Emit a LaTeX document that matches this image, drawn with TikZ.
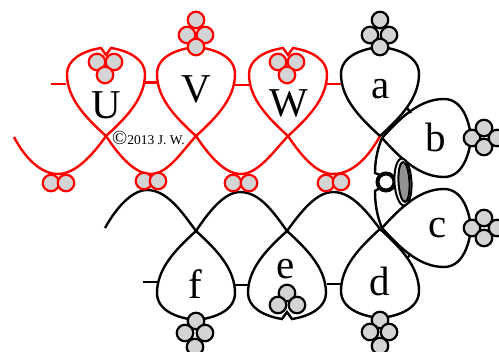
\documentclass[tikz,border=0pt]{standalone}
\usepackage{fontspec}
\usetikzlibrary{shapes.geometric}
\setmainfont{Liberation Serif}
\definecolor{beadgray}{gray}{0.83}
\tikzset{
  x=1pt,y=-1pt,
  thread/.style={line width=2.4pt,fill=none},
  redt/.style={thread,draw=red},
  blackt/.style={thread,draw=black},
  bead/.style={circle,draw,line width=2.2pt,fill=beadgray,minimum size=16.5pt,inner sep=0pt},
  letter/.style={font=\fontsize{41}{41}\selectfont,inner sep=0pt,text=black},
  ringloop/.pic={
    \path[pic actions] (0,0) .. controls (-21,-19) and (-39,-38) .. (-39,-62)
      .. controls (-39,-79) and (-20,-87) .. (0,-89)
      .. controls (20,-87) and (39,-79) .. (39,-62)
      .. controls (39,-38) and (21,-19) .. (0,0);
  },
  notchloop/.pic={
    \path[pic actions] (0,0) .. controls (-21,-19) and (-39,-38) .. (-39,-62)
      .. controls (-39,-76) and (-24,-85) .. (-5,-88) -- (0,-81) -- (5,-88)
      .. controls (24,-85) and (39,-76) .. (39,-62)
      .. controls (39,-38) and (21,-19) .. (0,0);
  },
}
\begin{document}
\begin{tikzpicture}
\useasboundingbox (0,0) rectangle (499,352);
\coordinate (tU) at (106,136);
\coordinate (tV) at (196,136);
\coordinate (tW) at (288,136);
\coordinate (ta) at (380,136);
\coordinate (tb) at (382,138);
\coordinate (tc) at (382,228);
\coordinate (td) at (380,229);
\coordinate (te) at (287,231);
\coordinate (tf) at (196,231);
\coordinate (startred) at (14,137);
\coordinate (startblack) at (105,228);
% red chain
\draw[redt] (startred) .. controls (26,160) and (42,174) .. (58,174) .. controls (75,174) and (92,156) .. (tU);
\draw[redt] (tU) .. controls (120,157) and (135,174) .. (151,174) .. controls (168,174) and (183,150) .. (tV);
\draw[redt] (tV) .. controls (210,157) and (225,174) .. (241,174) .. controls (258,174) and (274,151) .. (tW);
\draw[redt] (tW) .. controls (302,157) and (317,174) .. (333,174) .. controls (352,174) and (368,158) .. (ta);
\draw[redt] (51,84) -- (66,84);
\draw[redt,line width=3pt] (145,83) -- (158,83);
\draw[redt] (235,85) -- (250,85);
\draw[redt] (327,84) -- (341,84);
\pic[redt] at (tU) {notchloop};
\pic[redt] at (tV) {ringloop};
\pic[redt] at (tW) {notchloop};
% black chain
\draw[blackt] (startblack) .. controls (116,208) and (132,190) .. (147,190) .. controls (167,190) and (182,212) .. (tf);
\draw[blackt] (tf) .. controls (208,213) and (224,192) .. (240,192) .. controls (260,192) and (274,213) .. (te);
\draw[blackt] (te) .. controls (300,213) and (316,192) .. (333,192) .. controls (352,192) and (367,212) .. (td);
\draw[blackt] (143,282) -- (157,282);
\draw[blackt] (235,285) -- (248,285);
\draw[blackt] (327,284) -- (341,284);
\pic[blackt] at (ta) {ringloop};
\pic[blackt,rotate=-90] at (tb) {ringloop};
\pic[blackt,rotate=-90] at (tc) {ringloop};
\pic[blackt,rotate=180] at (td) {ringloop};
\pic[blackt,rotate=180] at (te) {notchloop};
\pic[blackt,rotate=180] at (tf) {ringloop};
\draw[blackt] (407,108) -- (411,113);
\draw[blackt] (407,258) -- (411,254);
% central ring and chain
\coordinate (nubup) at (375,173);
\coordinate (nubdown) at (375,191);
\draw[blackt] (tb) .. controls (377,150) and (375,162) .. (nubup) -- (380,175);
\draw[blackt] (tc) .. controls (377,216) and (375,204) .. (nubdown) -- (380,188);
\node[circle,draw,line width=4pt,minimum size=17pt,inner sep=0pt] (ring) at (386,182) {};
\node[ellipse,draw,line width=2pt,fill=white,minimum width=17pt,minimum height=47pt,inner sep=0pt,rotate=3] (disc) at (403,182) {};
\node[ellipse,draw,line width=2pt,fill=gray!85,minimum width=11pt,minimum height=40pt,inner sep=0pt,rotate=3] (discin) at (404,182) {};
% beads
\foreach \p in {(97,62),(114,62),(105,75),(196,20),(187,35),(205,35),(196,47),(278,62),(296,62),(287,75),
 (51,183),(66,183),(144,181),(158,181),(233,183),(249,183),(326,183),(341,182)}
  \node[bead,draw=red] at \p {};
\foreach \p in {(380,20),(370,35),(389,35),(380,47),(472,138),(484,128),(484,147),(497,138),
 (472,228),(484,218),(484,238),(497,228),(380,320),(370,332),(389,332),(380,346),
 (196,321),(185,333),(205,333),(195,347),(287,293),(278,305),(297,305)}
  \node[bead,draw=black] at \p {};
% letters
\node[letter] (lU) at (106,105.5) {U};
\node[letter] (lV) at (196,89.5) {V};
\node[letter] (lW) at (288.5,103.5) {W};
\node[letter] (la) at (381,89) {a};
\node[letter] (lb) at (436,137) {b};
\node[letter] (lc) at (438,228) {c};
\node[letter] (ld) at (379.5,281) {d};
\node[letter] (le) at (286,269) {e};
\node[letter] (lf) at (195.5,284) {f};
\node[inner sep=0pt,anchor=west,font=\fontsize{13.5}{13.5}\selectfont] (copy) at (112,138) {{\fontsize{20}{20}\selectfont ©}2013 J. W.};
\end{tikzpicture}
\end{document}
